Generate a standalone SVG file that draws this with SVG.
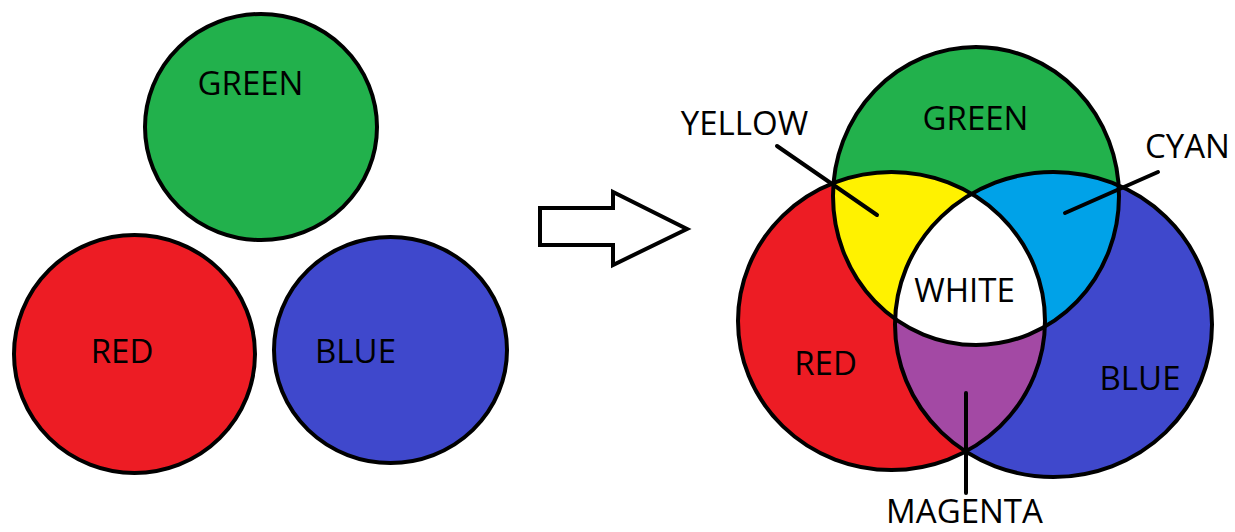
<svg xmlns="http://www.w3.org/2000/svg" width="1235" height="532" viewBox="0 0 1235 532">
<style>
  .outline { fill: none; stroke: #000; stroke-width: 4; }
  .lbl { font-family: "Open Sans", "Noto Sans", "Liberation Sans", sans-serif; font-size: 33px; fill: #000; text-anchor: middle; }
  .lead { stroke: #000; stroke-width: 4; stroke-linecap: round; }
</style>
<defs>
  <clipPath id="cRed"><ellipse cx="891.5" cy="321" rx="153.5" ry="149"/></clipPath>
  <clipPath id="cBlue"><ellipse cx="1053.5" cy="324.5" rx="158.5" ry="152.5"/></clipPath>
</defs>
<rect width="1235" height="532" fill="#fff"/>

<g id="left-green">
  <ellipse cx="261" cy="127" rx="116" ry="113" class="outline" style="fill:#22B14C"/>
  <text class="lbl" x="250.5" y="95">GREEN</text>
</g>
<g id="left-red">
  <ellipse cx="134.5" cy="354" rx="120.5" ry="119" class="outline" style="fill:#ED1C24"/>
  <text class="lbl" x="122" y="363">RED</text>
</g>
<g id="left-blue">
  <ellipse cx="390.5" cy="350" rx="116.5" ry="113" class="outline" style="fill:#3F48CC"/>
  <text class="lbl" x="355.5" y="363">BLUE</text>
</g>

<g id="arrow">
  <polygon points="540,208 613,208 613,192 687,229 613,265 613,245 540,245" fill="#fff" stroke="#000" stroke-width="4"/>
</g>

<g id="right-venn">
  <g id="right-red"><ellipse cx="891.5" cy="321" rx="153.5" ry="149" fill="#ED1C24"/></g>
  <g id="right-blue"><ellipse cx="1053.5" cy="324.5" rx="158.5" ry="152.5" fill="#3F48CC"/></g>
  <g id="right-green"><ellipse cx="976" cy="196" rx="143" ry="149" fill="#22B14C"/></g>
  <g id="yellow"><ellipse cx="976" cy="196" rx="143" ry="149" fill="#FFF200" clip-path="url(#cRed)"/></g>
  <g id="cyan"><ellipse cx="976" cy="196" rx="143" ry="149" fill="#00A2E8" clip-path="url(#cBlue)"/></g>
  <g id="magenta"><ellipse cx="891.5" cy="321" rx="153.5" ry="149" fill="#A349A4" clip-path="url(#cBlue)"/></g>
  <g id="white" clip-path="url(#cBlue)"><ellipse cx="976" cy="196" rx="143" ry="149" fill="#fff" clip-path="url(#cRed)"/></g>
  <g id="venn-outlines">
    <ellipse cx="891.5" cy="321" rx="153.5" ry="149" class="outline"/>
    <ellipse cx="1053.5" cy="324.5" rx="158.5" ry="152.5" class="outline"/>
    <ellipse cx="976" cy="196" rx="143" ry="149" class="outline"/>
  </g>
</g>

<g id="connectors">
  <line class="lead" x1="777" y1="146" x2="877" y2="215"/>
  <line class="lead" x1="1158" y1="172" x2="1065" y2="213"/>
  <line class="lead" x1="966" y1="393" x2="966" y2="493"/>
</g>

<g id="labels">
  <text class="lbl" x="975.5" y="130">GREEN</text>
  <text class="lbl" x="744.5" y="135">YELLOW</text>
  <text class="lbl" x="1187.5" y="158">CYAN</text>
  <text class="lbl" x="964.5" y="302">WHITE</text>
  <text class="lbl" x="825.5" y="375">RED</text>
  <text class="lbl" x="1140" y="390">BLUE</text>
  <text class="lbl" x="964.5" y="523">MAGENTA</text>
</g>
</svg>
